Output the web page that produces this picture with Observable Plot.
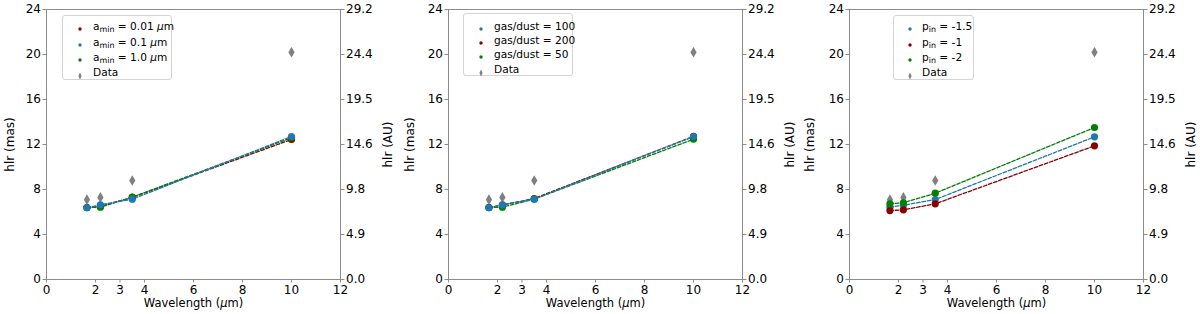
<!DOCTYPE html>
<html>
<head>
<meta charset="utf-8">
<script src="https://cdn.jsdelivr.net/npm/d3@7"></script>
<script src="https://cdn.jsdelivr.net/npm/@observablehq/plot@0.6"></script>
<style>
  body { margin: 0; background: #fff; font-family: "DejaVu Sans", sans-serif; }
  #row { display: flex; width: 1200px; height: 314px; }
  .panel { position: relative; width: 400px; height: 314px; }
  .panel svg { position: absolute; left: 0; top: 0; }
  .legend { position: absolute; box-sizing: border-box; border: 1px solid #d4d4d4; border-radius: 3px; background: rgba(255,255,255,0.85); }
  .entry { position: absolute; white-space: nowrap; font-size: 10.6px; line-height: 1; color: #000; transform: translateY(-50%); }
  .mk { position: absolute; transform: translate(-50%, -50%); }
  .entry sub { font-size: 0.75em; vertical-align: -0.3em; line-height: 0; }
</style>
</head>
<body>
<div id="row"></div>
<script>
// ---------- data ----------
const wavelengths = [1.65, 2.2, 3.5, 10];
const dataHlr = [7.1, 7.3, 8.8, 20.2];
const dataErr = [0.3, 0.3, 0.3, 0.35];

// panel 1: a_min
const amin001 = [6.4, 6.5, 7.3, 12.45];
const amin01 = [6.37, 6.64, 7.14, 12.71];
const amin10 = [6.4, 6.43, 7.32, 12.6];

// panel 2: gas/dust
const gd100 = [6.37, 6.64, 7.14, 12.71];
const gd200 = [6.4, 6.62, 7.2, 12.72];
const gd50 = [6.4, 6.43, 7.15, 12.47];

// panel 3: p_in
const pin15 = [6.43, 6.6, 7.11, 12.68];
const pin1 = [6.13, 6.19, 6.73, 11.88];
const pin2 = [6.73, 6.82, 7.67, 13.51];

const xTicks = [0, 2, 3, 4, 6, 8, 10, 12];
const yTicks = [0, 4, 8, 12, 16, 20, 24];
const auLabels = ["0.0", "4.9", "9.8", "14.6", "19.5", "24.4", "29.2"];

const RED = "#8b0000", BLUE = "#1f77b4", GREEN = "#008000", GREY = "#808080";

const panels = [
  {
    ml: 46, mr: 60,
    series: [
      {label: 'a<sub>min</sub> = 0.01 <i>μ</i>m', values: amin001, color: RED},
      {label: 'a<sub>min</sub> = 0.1 <i>μ</i>m', values: amin01, color: BLUE},
      {label: 'a<sub>min</sub> = 1.0 <i>μ</i>m', values: amin10, color: GREEN}
    ],
    drawOrder: [0, 2, 1],
    legend: {left: 62, top: 15, width: 110, height: 65, mx: 14, tx: 30, rows: [10, 26, 41, 56]}
  },
  {
    ml: 48, mr: 58,
    series: [
      {label: 'gas/dust = 100', values: gd100, color: BLUE},
      {label: 'gas/dust = 200', values: gd200, color: RED},
      {label: 'gas/dust = 50', values: gd50, color: GREEN}
    ],
    drawOrder: [1, 2, 0],
    legend: {left: 63, top: 13, width: 110, height: 63, mx: 14, tx: 30, rows: [12, 26, 40, 55]}
  },
  {
    ml: 49, mr: 57,
    series: [
      {label: 'p<sub>in</sub> = -1.5', values: pin15, color: BLUE},
      {label: 'p<sub>in</sub> = -1', values: pin1, color: RED},
      {label: 'p<sub>in</sub> = -2', values: pin2, color: GREEN}
    ],
    drawOrder: [0, 1, 2],
    legend: {left: 93, top: 15, width: 81, height: 65, mx: 13, tx: 28, rows: [10, 26, 41, 56]}
  }
];

// thin diamond symbol (matplotlib "d")
const thinDiamond = {
  draw(ctx, size) {
    const r = Math.sqrt(size / Math.PI);
    const hw = 0.95 * r, hh = 1.6 * r;
    ctx.moveTo(0, -hh); ctx.lineTo(hw, 0); ctx.lineTo(0, hh); ctx.lineTo(-hw, 0); ctx.closePath();
  }
};

const dataRows = wavelengths.map((w, i) => ({w, v: dataHlr[i], e: dataErr[i]}));

const row = document.getElementById("row");

panels.forEach(p => {
  const div = document.createElement("div");
  div.className = "panel";
  row.appendChild(div);

  const tables = p.series.map(s => wavelengths.map((w, i) => ({w, v: s.values[i]})));
  const lineMarks = p.drawOrder.map(k => Plot.line(tables[k], {x: "w", y: "v", stroke: p.series[k].color, strokeWidth: 1.3, strokeDasharray: "3.6,1.8"}));
  const dotMarks = p.drawOrder.map(k => Plot.dot(tables[k], {x: "w", y: "v", r: 3.6, fill: p.series[k].color}));
  const axisStroke = "#8c8c8c";

  const svg = Plot.plot({
    width: 400, height: 314,
    marginLeft: p.ml, marginRight: p.mr, marginTop: 9, marginBottom: 35,
    style: {fontFamily: "DejaVu Sans", fontSize: "12px", color: "#000", background: "transparent", overflow: "visible"},
    x: {domain: [0, 12]},
    y: {domain: [0, 24]},
    marks: [
      Plot.frame({stroke: axisStroke, strokeWidth: 1}),
      Plot.axisX({ticks: xTicks, tickSize: 3.5, tickPadding: 2, stroke: axisStroke, label: null, fontSize: 12, tickFormat: d => String(d)}),
      Plot.axisY({ticks: yTicks, tickSize: 3.5, tickPadding: 2, stroke: axisStroke, label: null, fontSize: 12, tickFormat: d => String(d)}),
      Plot.axisY({anchor: "right", ticks: yTicks, tickSize: 3.5, tickPadding: 2, stroke: axisStroke, label: null, fontSize: 12, tickFormat: (d, i) => auLabels[i]}),
      Plot.text(["hlr (mas)"], {text: d => d, frameAnchor: "left", dx: -(p.ml - 10), rotate: -90, textAnchor: "middle", lineAnchor: "middle", fontSize: 12, fill: "#000"}),
      Plot.text(["hlr (AU)"], {text: d => d, frameAnchor: "right", dx: 48, rotate: -90, textAnchor: "middle", lineAnchor: "middle", fontSize: 12, fill: "#000"}),
      Plot.text(["Wavelength (μm)"], {text: d => d, frameAnchor: "bottom", dy: 24, textAnchor: "middle", lineAnchor: "middle", fontSize: 11.5, fill: "#000"}),
      Plot.ruleX(dataRows, {x: "w", y1: d => d.v - d.e, y2: d => d.v + d.e, stroke: GREY, strokeWidth: 1.2}),
      Plot.dot(dataRows, {x: "w", y: "v", r: 3.3, symbol: thinDiamond, fill: GREY, stroke: "none"}),
      ...lineMarks,
      ...dotMarks
    ]
  });

  // italic mu in x label
  svg.querySelectorAll("text").forEach(t => {
    if (t.textContent === "Wavelength (μm)") {
      t.textContent = "";
      const parts = [["Wavelength (", null], ["μ", "italic"], ["m)", null]];
      parts.forEach(([s, st]) => {
        const ts = document.createElementNS("http://www.w3.org/2000/svg", "tspan");
        ts.textContent = s;
        if (st) ts.setAttribute("font-style", st);
        t.appendChild(ts);
      });
    }
  });
  div.appendChild(svg);

  // legend
  const L = p.legend;
  const box = document.createElement("div");
  box.className = "legend";
  box.style.left = L.left + "px"; box.style.top = L.top + "px";
  box.style.width = L.width + "px"; box.style.height = L.height + "px";
  div.appendChild(box);
  const entries = p.series.map(s => ({label: s.label, color: s.color, kind: "dot"})).concat([{label: "Data", color: GREY, kind: "diamond"}]);
  entries.forEach((e, i) => {
    const mk = document.createElement("div");
    mk.className = "mk";
    mk.style.left = L.mx + "px"; mk.style.top = L.rows[i] + "px";
    mk.innerHTML = e.kind === "dot"
      ? `<svg width="6" height="6" style="display:block"><circle cx="3" cy="3" r="1.7" fill="${e.color}"/></svg>`
      : `<svg width="6" height="8" style="display:block"><path d="M3,0.6L4.6,4L3,7.4L1.4,4Z" fill="${e.color}"/></svg>`;
    box.appendChild(mk);
    const t = document.createElement("div");
    t.className = "entry";
    t.style.left = L.tx + "px"; t.style.top = L.rows[i] + "px";
    t.innerHTML = e.label;
    box.appendChild(t);
  });
});
</script>
</body>
</html>
